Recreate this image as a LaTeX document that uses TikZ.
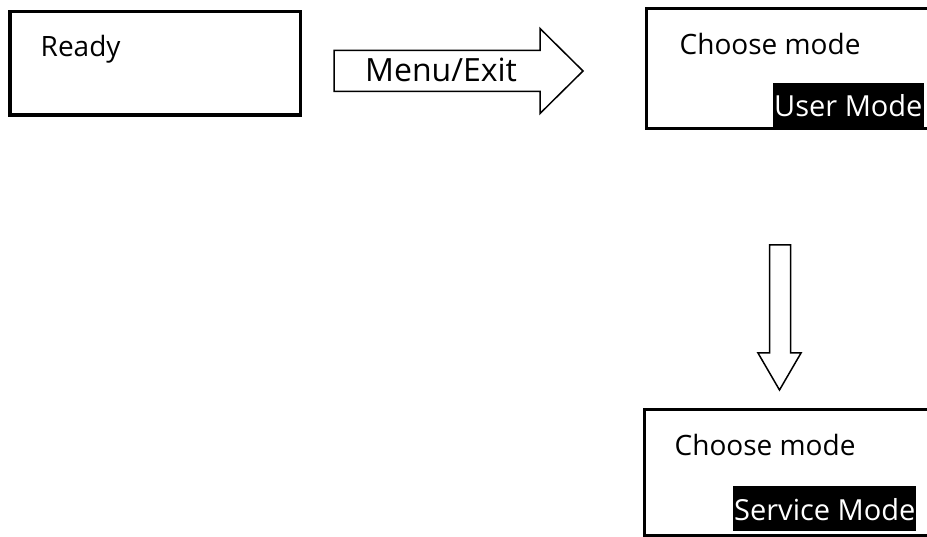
\documentclass[tikz,border=0pt]{standalone}
\usepackage{fontspec}
\setmainfont{Open Sans}
\usetikzlibrary{positioning}

\begin{document}
\begin{tikzpicture}[
    x=1pt, y=-1pt,
    screen/.style={rectangle, draw, line width=3pt, inner sep=0pt},
    screentext/.style={inner sep=0pt, anchor=base west, font=\fontsize{28}{34}\selectfont},
    selected/.style={fill=black, text=white, inner xsep=1pt, inner ysep=0pt, text height=34pt, text depth=11pt, anchor=base west, font=\fontsize{29}{35}\selectfont},
    blockarrow/.style={draw, line width=1.5pt, line join=miter}
]
\useasboundingbox (0,0) rectangle (927,537);
\clip (0,0) rectangle (927,537);

% Ready screen
\node[screen, line width=3.5pt, minimum width=290.5pt, minimum height=103.5pt] (ready) at (155,63.5) {};
\node[screentext] (readytxt) at (40.5,56.5) {Ready};

% Choose mode screens
\node[screen, minimum width=282pt, minimum height=120pt] (user) at (787.5,68.5) {};
\node[screentext] (usertxt) at (679.5,55) {Choose mode};
\node[selected] (usersel) at (773,117) {User Mode};

\node[screen, minimum width=284pt, minimum height=125.5pt] (service) at (786.5,472.25) {};
\node[screentext] (servicetxt) at (674.5,455) {Choose mode};
\node[selected] (servicesel) at (733,520) {Service Mode};

% Block arrows
\coordinate (menutail) at (334,71);
\draw[blockarrow] (menutail) ++(0,-20.5) -- ++(206,0) -- ++(0,-22) -- ++(43,42.5)
    -- ++(-43,42.5) -- ++(0,-22) -- ++(-206,0) -- cycle;
\node[screentext, font=\fontsize{32}{38}\selectfont] (menutxt) at (365,82) {Menu/Exit};

\coordinate (downtail) at (780,245);
\draw[blockarrow] (downtail) ++(-10.5,0) -- ++(21,0) -- ++(0,108) -- ++(10.5,0) -- ++(-21.5,37)
    -- ++(-21.5,-37) -- ++(11.5,0) -- cycle;
\end{tikzpicture}
\end{document}
